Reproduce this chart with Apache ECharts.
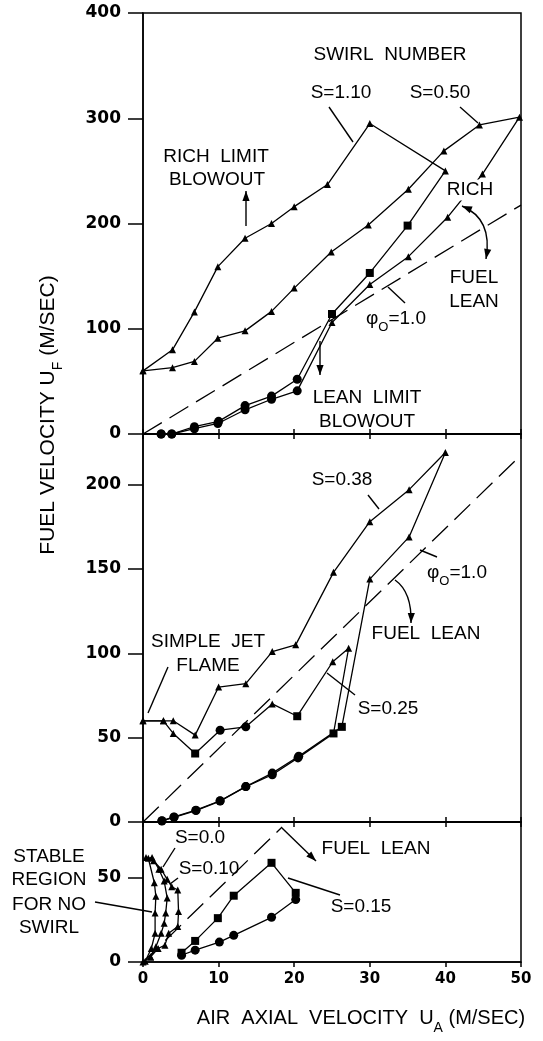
<!DOCTYPE html>
<html><head><meta charset="utf-8">
<script src="https://cdn.jsdelivr.net/npm/echarts@6/dist/echarts.min.js"></script>
<style>html,body{margin:0;padding:0;background:#fff}#c{width:543px;height:1041px}</style>
</head><body><div id="c"></div>
<script>
// ---------- DATA (air axial velocity UA, fuel velocity UF in m/s) ----------
const xTicks = [0, 10, 20, 30, 40, 50];
const yTicksTop = [0, 100, 200, 300, 400];
const yTicksMid = [0, 50, 100, 150, 200];
const yTicksBot = [0, 50];

// Top panel: S = 1.10 and S = 0.50 (t = triangle rich limit, s = square, c = circle lean limit)
const topS110 = [[0,60],[3.9,80],[6.8,116],[9.9,159],[13.5,186],[17,200],[20,216],[24.4,237],[30,295],[40,250],
                 [35,198],[30,153],[25,114],
                 [20.4,52],[17,36],[13.5,27],[10,12],[6.8,7],[3.8,0],[2.4,0]];
const topS110Kind = 'tttttttttt' + 'sss' + 'ccccccc';
const topS050 = [[0,60],[3.9,63],[6.8,69],[9.9,91],[13.5,98],[17,116.5],[20,138.6],[24.9,173],[29.8,198.5],[35.1,232.5],
                 [39.8,269],[44.5,293.6],[49.8,301],[44.9,247],[40.3,206],[35.1,168.5],[30,142],[25,106],
                 [20.4,41],[17,33],[13.5,23],[9.9,10],[6.8,5],[3.8,0],[2.4,0]];
const topS050Kind = 'tttttttttttttttttt' + 'ccccccc';

// Middle panel: S = 0.38 and S = 0.25
const midS038 = [[0,60],[2.7,60],[4,60],[6.9,51.5],[10,80],[13.6,82],[17.1,101],[20.2,105],[25.2,148],[30,178],
                 [35.2,197],[40,219],[35.2,169],[30,144],
                 [26.3,56.4],
                 [20.6,39],[17.1,29],[13.6,21],[10.2,12.6],[7,7],[4.1,3],[2.5,0.8]];
const midS038Kind = 'tttttttttttttt' + 's' + 'ccccccc';
const midS025 = [[0,60],[2.7,60],[4,52.5],[6.9,40.6],[10.2,54.4],[13.6,56.4],[17.1,70],[20.4,62.7],[25.1,95],[27.2,103],
                 [25.2,52.5],[20.5,38],[17.1,28],[13.6,21],[10.2,12.4],[7,6.8],[4.1,2.8],[2.5,0.6]];
const midS025Kind = 'tttscctstt' + 's' + 'ccccccc';

// Bottom panel: S = 0.0, S = 0.10, S = 0.15
const botS000 = [[0.3,0.5],[1.1,8],[1.6,17],[1.6,29],[1.7,39],[1.5,47],[0.7,61.5],[1.2,62],[2.1,55],[2.8,48],
                 [3.2,38],[3.0,29],[2.8,23],[2.4,17],[1.7,9],[1.0,3]];
const botS000Kind = 'tttttttttttttttt';
const botS010 = [[0,0],[1.0,3],[2.0,8],[2.9,10],[3.4,17],[4.6,21],[4.7,30],[4.6,42.7],[3.8,44.6],[3.2,49],
                 [2.4,55],[1.4,60],[0.4,62]];
const botS010Kind = 'ttttttttttttt';
const botS015 = [[5.1,5.5],[6.9,12.5],[9.9,26],[12,39.3],[17,58.8],[20.2,41],
                 [20.2,37],[17,26.5],[12,15.8],[10.1,11.8],[6.9,7],[5.1,4]];
const botS015Kind = 'ssssss' + 'cccccc';

// Stoichiometric line phi_o = 1.0
const phiLine = [[0,0],[50,217.5]];
const phiLineBot = [[0,0],[18.4,80]];

// ---------- CHART ----------
const SYM = {t:'triangle', s:'rect', c:'circle'};
const SIZE = {t:7, s:8, c:9};
const FONT = '"Liberation Sans", Arial, sans-serif';
function pts(arr, kinds){ return arr.map((p,i)=>({value:p, symbol:SYM[kinds[i]], symbolSize:SIZE[kinds[i]]})); }
function curve(name, arr, kinds, idx){
  return {type:'line', name, xAxisIndex:idx, yAxisIndex:idx, data:pts(arr,kinds), showSymbol:true,
    lineStyle:{color:'#000', width:1.3}, itemStyle:{color:'#000'}, silent:true, z:3};
}
function dashed(arr, idx){
  return {type:'line', xAxisIndex:idx, yAxisIndex:idx, data:arr, symbol:'none',
    lineStyle:{color:'#000', width:1.3, type:[22,9]}, silent:true, z:2};
}
const axisLine = {lineStyle:{color:'#000', width:1.5}};
function xAx(grid, labels, pos){
  return {gridIndex:grid, type:'value', min:xTicks[0], max:xTicks[xTicks.length-1], interval:xTicks[1]-xTicks[0],
    position:pos||'bottom', axisLine, splitLine:{show:false},
    axisTick:{show:true, inside:!labels, length:5, lineStyle:{color:'#000', width:1.5}},
    axisLabel:{show:labels, color:'#000', fontFamily:'"DejaVu Sans"', fontWeight:'bold', fontSize:15, margin:10}};
}
function yAx(grid, ticks, max){
  return {gridIndex:grid, type:'value', min:ticks[0], max:max, interval:ticks[1]-ticks[0],
    axisLine, splitLine:{show:false},
    axisTick:{length:15, lineStyle:{color:'#000', width:1.5}},
    axisLabel:{color:'#000', fontFamily:'"DejaVu Sans"', fontWeight:'bold', fontSize:17, margin:22,
      showMaxLabel: max === ticks[ticks.length-1],
      formatter: v => ticks.indexOf(v) >= 0 ? String(v) : ''}};
}

// annotation helpers (pixel-positioned labels and pointers)
const G = [];
function T(text, x, y, extra){
  G.push(Object.assign({type:'text', x, y, z:100, style:Object.assign({text, font:'19px ' + FONT, fill:'#000',
    textAlign:'center', textVerticalAlign:'middle'}, extra||{})}));
}
function R(text, x, y, rot, fs){
  fs = fs || 19;
  G.push({type:'text', x, y, rotation:rot||0, z:100, style:{text, fill:'#000', textAlign:'center', textVerticalAlign:'middle',
    rich:{a:{fontSize:fs, fontFamily:FONT, lineHeight:fs+3, verticalAlign:'top'},
          s:{fontSize:Math.round(fs*0.68), fontFamily:FONT, lineHeight:14, verticalAlign:'top', padding:[Math.round(fs*0.63),0,0,0]}}}});
}
function L(x1,y1,x2,y2){ G.push({type:'line', z:100, shape:{x1,y1,x2,y2}, style:{stroke:'#000', lineWidth:1.4}}); }
function head(fx,fy,tx,ty){
  const a = Math.atan2(ty-fy, tx-fx), len = 10, w = 3.6;
  const bx = tx - len*Math.cos(a), by = ty - len*Math.sin(a);
  G.push({type:'polygon', z:100, shape:{points:[[tx,ty],[bx + w*Math.sin(a), by - w*Math.cos(a)],[bx - w*Math.sin(a), by + w*Math.cos(a)]]},
    style:{fill:'#000'}});
}
function A(x1,y1,x2,y2){ L(x1,y1,x2,y2); head(x1,y1,x2,y2); }
function C(x1,y1,cx,cy,x2,y2,both){
  G.push({type:'bezierCurve', z:100, shape:{x1,y1,x2,y2,cpx1:cx,cpy1:cy}, style:{stroke:'#000', lineWidth:1.4, fill:null}});
  head(cx,cy,x2,y2); if (both) head(cx,cy,x1,y1);
}

// top panel annotations
T('SWIRL  NUMBER', 390, 55);
T('S=1.10', 341, 93); L(329,107,353,142);
T('S=0.50', 440, 93); L(460,107,478,123);
T('RICH  LIMIT', 216, 157); T('BLOWOUT', 217, 180); A(246,226,246,191);
T('RICH', 470, 190, {backgroundColor:'#fff', padding:[1,2]});
T('FUEL', 474, 278); T('LEAN', 474, 302);
C(462,206,493,219,486,259,true);
R('{a|φ}{s|O}{a|=1.0}', 396, 320); L(388,287,405,303);
T('LEAN  LIMIT', 367, 398); T('BLOWOUT', 367, 422); A(320,341,320,375);
// middle panel annotations
T('S=0.38', 342, 480); L(368,495,379,509);
R('{a|φ}{s|O}{a|=1.0}', 457, 574); L(420,550,437,557);
T('FUEL  LEAN', 426, 634); C(395,580,412,592,411,623,false);
T('SIMPLE  JET', 208, 642); T('FLAME', 208, 666); L(168,667,148,713);
T('S=0.25', 388, 709); L(327,673,355,695);
// bottom panel annotations
T('S=0.0', 200, 838); L(175,848,163,867);
T('S=0.10', 209, 869); L(178,878,170,884);
T('FUEL  LEAN', 376, 849); A(282,828,316,861);
T('S=0.15', 361, 907); L(288,878,340,895);
T('STABLE', 49, 857); T('REGION', 49, 880); T('FOR NO', 49, 905); T('SWIRL', 49, 928);
L(95,902,152,912);
// axis titles
R('{a|AIR  AXIAL  VELOCITY  U}{s|A}{a| (M/SEC)}', 361, 1020, 0, 20);
R('{a|FUEL VELOCITY U}{s|F}{a| (M/SEC)}', 50, 415, Math.PI/2, 21);

const gridBase = {left:143, right:22, show:true, borderColor:'#000', borderWidth:1.5, containLabel:false};
const option = {
  animation:false,
  backgroundColor:'#fff',
  grid:[Object.assign({top:13, height:421}, gridBase),
        Object.assign({top:434, height:388}, gridBase),
        Object.assign({top:822, height:140}, gridBase)],
  xAxis:[xAx(0,false), xAx(1,false), xAx(2,true), xAx(1,false,'top'), xAx(2,false,'top')],
  yAxis:[yAx(0,yTicksTop,400), yAx(1,yTicksMid,230), yAx(2,yTicksBot,83)],
  series:[
    dashed(phiLine,0), dashed(phiLine,1), dashed(phiLineBot,2),
    curve('S=1.10', topS110, topS110Kind, 0),
    curve('S=0.50', topS050, topS050Kind, 0),
    curve('S=0.38', midS038, midS038Kind, 1),
    curve('S=0.25', midS025, midS025Kind, 1),
    curve('S=0.0', botS000, botS000Kind, 2),
    curve('S=0.10', botS010, botS010Kind, 2),
    curve('S=0.15', botS015, botS015Kind, 2)
  ],
  graphic:{elements:G}
};
const chart = echarts.init(document.getElementById('c'), null, {renderer:'canvas'});
chart.setOption(option);
</script></body></html>
